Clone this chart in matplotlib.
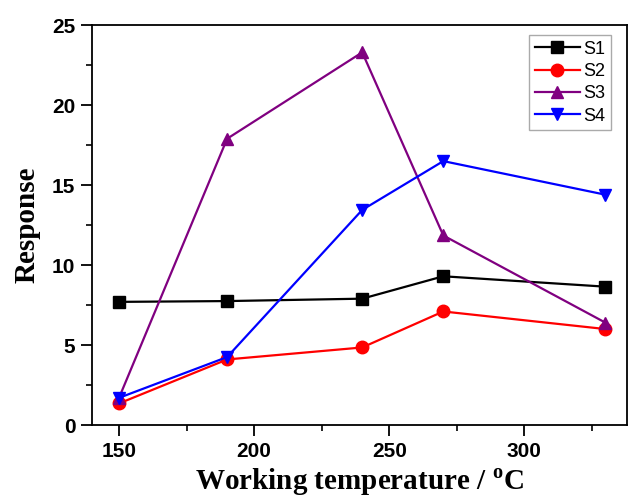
import matplotlib
matplotlib.use('Agg')
import matplotlib.pyplot as plt
from matplotlib.ticker import MultipleLocator

# data
temps = [150, 190, 240, 270, 330]
s1 = [7.7, 7.75, 7.9, 9.3, 8.65]
s2 = [1.35, 4.1, 4.85, 7.1, 6.0]
s3 = [1.7, 17.9, 23.3, 11.85, 6.4]
s4 = [1.7, 4.25, 13.45, 16.5, 14.4]

plt.rcParams['mathtext.fontset'] = 'custom'
plt.rcParams['mathtext.bf'] = 'Liberation Serif:bold'
plt.rcParams['mathtext.rm'] = 'Liberation Serif:bold'

fig = plt.figure(figsize=(6.28, 5.03), dpi=100)
ax = fig.add_axes([0.1465, 0.155, 0.852, 0.795])

ax.plot(temps, s1, '-s', color='black', lw=1.6, ms=8, label='S1')
ax.plot(temps, s2, '-o', color='red', lw=1.6, ms=9, label='S2')
ax.plot(temps, s3, '-^', color='#800080', lw=1.6, ms=9, label='S3')
ax.plot(temps, s4, '-v', color='blue', lw=1.6, ms=9, label='S4')

ax.set_xlim(140, 338)
ax.set_ylim(0, 25)
ax.xaxis.set_major_locator(MultipleLocator(50))
ax.xaxis.set_minor_locator(MultipleLocator(25))
ax.yaxis.set_major_locator(MultipleLocator(5))
ax.yaxis.set_minor_locator(MultipleLocator(2.5))
ax.tick_params(which='major', direction='out', length=8, width=1.3, pad=4)
ax.tick_params(which='minor', direction='out', length=4, width=1.2)
for lab in ax.get_xticklabels() + ax.get_yticklabels():
    lab.set_fontfamily('Liberation Sans')
    lab.set_fontweight('bold')
    lab.set_fontsize(15)
for sp in ax.spines.values():
    sp.set_linewidth(1.3)

ax.set_xlabel(r'Working temperature / $^{\mathbf{o}}$C', fontfamily='Liberation Serif',
              fontweight='bold', fontsize=21, labelpad=4)
ax.set_ylabel('Response', fontfamily='Liberation Serif', fontweight='bold',
              fontsize=21, labelpad=8)

leg = ax.legend(loc='upper right', bbox_to_anchor=(0.970, 0.975),
                prop={'family': 'Liberation Sans', 'size': 13},
                handlelength=2.5, handletextpad=0.2, borderpad=0.3,
                labelspacing=0.3, borderaxespad=0, fancybox=False, framealpha=1)
leg.get_frame().set_edgecolor('#aaaaaa')
leg.get_frame().set_linewidth(1.0)

fig.savefig('out.png', dpi=100)
